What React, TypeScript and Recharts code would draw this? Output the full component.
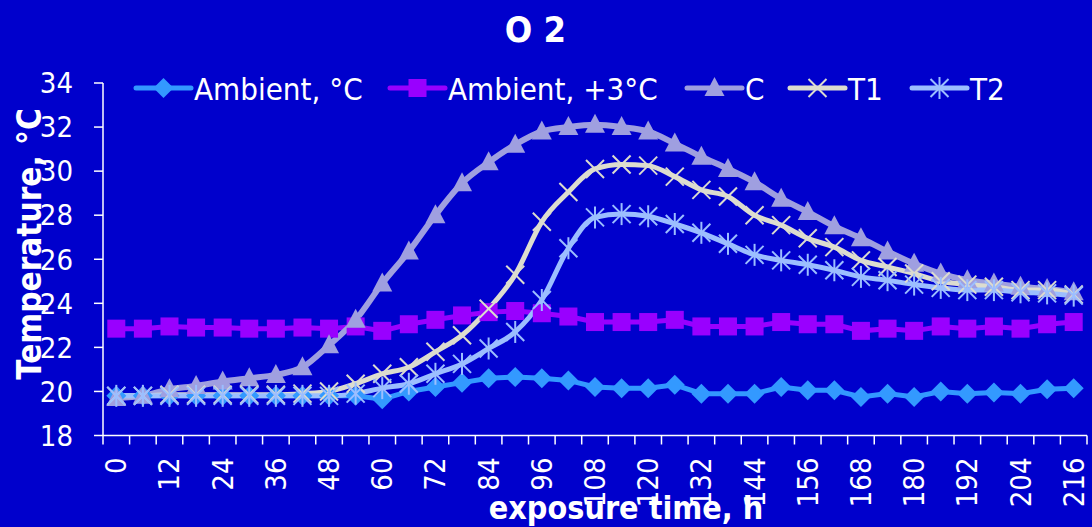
import React from 'react';
import { LineChart, Line, XAxis, YAxis } from 'recharts';

const hours = [0, 6, 12, 18, 24, 30, 36, 42, 48, 54, 60, 66, 72, 78, 84, 90, 96, 102, 108, 114, 120, 126, 132, 138, 144, 150, 156, 162, 168, 174, 180, 186, 192, 198, 204, 210, 216];
const ambient = [19.8, 19.8, 19.8, 19.8, 19.8, 19.8, 19.8, 19.8, 19.8, 19.8, 19.65, 20.0, 20.2, 20.4, 20.6, 20.65, 20.6, 20.5, 20.2, 20.15, 20.15, 20.3, 19.9, 19.9, 19.9, 20.2, 20.05, 20.05, 19.75, 19.9, 19.75, 20.0, 19.9, 19.95, 19.9, 20.1, 20.15];
const ambientPlus3 = [22.85, 22.85, 22.95, 22.9, 22.9, 22.85, 22.85, 22.9, 22.85, 22.95, 22.75, 23.05, 23.25, 23.45, 23.6, 23.65, 23.55, 23.4, 23.15, 23.15, 23.15, 23.25, 22.95, 22.95, 22.95, 23.15, 23.05, 23.05, 22.75, 22.85, 22.75, 22.95, 22.85, 22.95, 22.85, 23.05, 23.15];
const cSeries = [19.7, 19.8, 20.1, 20.25, 20.45, 20.6, 20.75, 21.1, 22.1, 23.25, 24.9, 26.35, 28.0, 29.45, 30.4, 31.2, 31.8, 32.0, 32.1, 32.0, 31.8, 31.25, 30.65, 30.1, 29.5, 28.75, 28.15, 27.5, 26.95, 26.35, 25.8, 25.35, 25.05, 24.9, 24.75, 24.65, 24.5];
const t1 = [19.8, 19.8, 19.85, 19.85, 19.85, 19.85, 19.85, 19.9, 20.0, 20.35, 20.8, 21.1, 21.8, 22.55, 23.75, 25.3, 27.7, 29.05, 30.1, 30.3, 30.25, 29.75, 29.15, 28.85, 28.0, 27.55, 26.95, 26.55, 25.95, 25.65, 25.35, 25.0, 24.85, 24.75, 24.6, 24.6, 24.4];
const t2 = [19.8, 19.8, 19.8, 19.8, 19.8, 19.8, 19.8, 19.8, 19.8, 19.9, 20.15, 20.35, 20.8, 21.25, 21.95, 22.7, 24.15, 26.5, 27.9, 28.05, 27.95, 27.6, 27.2, 26.7, 26.2, 25.95, 25.75, 25.5, 25.2, 25.05, 24.85, 24.7, 24.6, 24.6, 24.5, 24.45, 24.35];

const yTicks = [18, 20, 22, 24, 26, 28, 30, 32, 34];
const xLabelTicks = [0, 12, 24, 36, 48, 60, 72, 84, 96, 108, 120, 132, 144, 156, 168, 180, 192, 204, 216];
const seriesNames = ['Ambient, °C', 'Ambient, +3°C', 'C', 'T1', 'T2'];

const BG = '#0000CC';
const COL_AMB = '#3399FF';
const COL_AMB3 = '#9900FF';
const COL_C = '#9F9FE0';
const COL_T1 = '#DCDCCF';
const COL_T2 = '#9CBEFF';
const FONT = "'DejaVu Sans Condensed', 'DejaVu Sans', sans-serif";

const data = hours.map((h, i) => ({
  h,
  ambient: ambient[i],
  ambientPlus3: ambientPlus3[i],
  c: cSeries[i],
  t1: t1[i],
  t2: t2[i],
}));

// boundary tick marks between categories plus label positions
const xTicks = [...hours.map((h) => h - 3), 219, ...xLabelTicks].sort((a, b) => a - b);

const diamondPath = (cx: number, cy: number, r: number) =>
  `M${cx},${cy - r} L${cx + r},${cy} L${cx},${cy + r} L${cx - r},${cy} Z`;

const DiamondDot = (p: any) => <path key={`d${p.index}`} d={diamondPath(p.cx, p.cy, 10)} fill={COL_AMB} />;
const SquareDot = (p: any) => <rect key={`s${p.index}`} x={p.cx - 9} y={p.cy - 9} width={18} height={18} fill={COL_AMB3} />;
const TriDot = (p: any) => (
  <path key={`t${p.index}`} d={`M${p.cx},${p.cy - 11} L${p.cx + 10},${p.cy + 8} L${p.cx - 10},${p.cy + 8} Z`} fill={COL_C} />
);
const XDot = (p: any) => (
  <g key={`x${p.index}`} stroke={COL_T1} strokeWidth={2}>
    <line x1={p.cx - 9} y1={p.cy - 9} x2={p.cx + 9} y2={p.cy + 9} />
    <line x1={p.cx - 9} y1={p.cy + 9} x2={p.cx + 9} y2={p.cy - 9} />
  </g>
);
const StarDot = (p: any) => (
  <g key={`a${p.index}`} stroke={COL_T2} strokeWidth={2}>
    <line x1={p.cx - 9} y1={p.cy - 9} x2={p.cx + 9} y2={p.cy + 9} />
    <line x1={p.cx - 9} y1={p.cy + 9} x2={p.cx + 9} y2={p.cy - 9} />
    <line x1={p.cx} y1={p.cy - 11} x2={p.cx} y2={p.cy + 11} />
  </g>
);

const XTick = (props: any) => {
  const { x, y, payload } = props;
  const v = payload.value;
  if (v % 12 === 0) {
    const ty = y + 22;
    return (
      <text
        x={x}
        y={ty}
        transform={`rotate(-90 ${x} ${ty})`}
        textAnchor="end"
        dominantBaseline="central"
        fill="#FFFFFF"
        fontSize={29}
        fontFamily={FONT}
      >
        {v}
      </text>
    );
  }
  return <line x1={x} x2={x} y1={y} y2={y + 9} stroke="#FFFFFF" strokeWidth={1.5} />;
};

const legendItems = [
  { name: seriesNames[0], color: COL_AMB, marker: 'diamond', x: 136 },
  { name: seriesNames[1], color: COL_AMB3, marker: 'square', x: 390 },
  { name: seriesNames[2], color: COL_C, marker: 'tri', x: 687 },
  { name: seriesNames[3], color: COL_T1, marker: 'x', x: 790 },
  { name: seriesNames[4], color: COL_T2, marker: 'star', x: 912 },
];

const LegendMarker = ({ kind, cx, cy, color }: any) => {
  if (kind === 'diamond') return <path d={diamondPath(cx, cy, 10)} fill={color} />;
  if (kind === 'square') return <rect x={cx - 9} y={cy - 9} width={18} height={18} fill={color} />;
  if (kind === 'tri') return <path d={`M${cx},${cy - 11} L${cx + 10},${cy + 8} L${cx - 10},${cy + 8} Z`} fill={color} />;
  if (kind === 'x')
    return (
      <g stroke={color} strokeWidth={2}>
        <line x1={cx - 9} y1={cy - 9} x2={cx + 9} y2={cy + 9} />
        <line x1={cx - 9} y1={cy + 9} x2={cx + 9} y2={cy - 9} />
      </g>
    );
  return (
    <g stroke={color} strokeWidth={2}>
      <line x1={cx - 9} y1={cy - 9} x2={cx + 9} y2={cy + 9} />
      <line x1={cx - 9} y1={cy + 9} x2={cx + 9} y2={cy - 9} />
      <line x1={cx} y1={cy - 11} x2={cx} y2={cy + 11} />
    </g>
  );
};

export default function App() {
  return (
    <div style={{ position: 'fixed', left: 0, top: 0, width: 1092, height: 527, background: BG }}>
      <LineChart width={1092} height={527} data={data} margin={{ top: 83, right: 5, left: 0, bottom: 0 }}>
        <XAxis
          dataKey="h"
          type="number"
          domain={[-3, 219]}
          ticks={xTicks}
          interval={0}
          tick={<XTick />}
          tickLine={false}
          tickSize={0}
          tickMargin={0}
          height={91.5}
          axisLine={{ stroke: '#FFFFFF', strokeWidth: 1.5 }}
        />
        <YAxis
          type="number"
          domain={[18, 34]}
          ticks={yTicks}
          interval={0}
          width={103}
          tickSize={9}
          tickMargin={21}
          tick={{ fill: '#FFFFFF', fontSize: 29, fontFamily: FONT }}
          tickLine={{ stroke: '#FFFFFF', strokeWidth: 1.5 }}
          axisLine={{ stroke: '#FFFFFF', strokeWidth: 1.5 }}
        />
        <Line type="linear" dataKey="ambient" name={seriesNames[0]} stroke={COL_AMB} strokeWidth={5} dot={DiamondDot} isAnimationActive={false} />
        <Line type="linear" dataKey="ambientPlus3" name={seriesNames[1]} stroke={COL_AMB3} strokeWidth={5} dot={SquareDot} isAnimationActive={false} />
        <Line type="monotone" dataKey="c" name={seriesNames[2]} stroke={COL_C} strokeWidth={6} dot={TriDot} isAnimationActive={false} />
        <Line type="monotone" dataKey="t1" name={seriesNames[3]} stroke={COL_T1} strokeWidth={5} dot={XDot} isAnimationActive={false} />
        <Line type="monotone" dataKey="t2" name={seriesNames[4]} stroke={COL_T2} strokeWidth={5} dot={StarDot} isAnimationActive={false} />
      </LineChart>
      <svg width={1092} height={527} style={{ position: 'absolute', left: 0, top: 0, pointerEvents: 'none' }}>
        <text x={535.5} y={42} textAnchor="middle" fill="#FFFFFF" fontSize={36} fontWeight="bold" fontFamily={FONT}>
          O 2
        </text>
        {legendItems.map((it) => (
          <g key={it.name}>
            <line x1={it.x} x2={it.x + 55} y1={88} y2={88} stroke={it.color} strokeWidth={5} strokeLinecap="round" />
            <LegendMarker kind={it.marker} cx={it.x + 27.5} cy={88} color={it.color} />
            <text x={it.x + 58} y={100} fill="#FFFFFF" fontSize={31} fontFamily={FONT}>
              {it.name}
            </text>
          </g>
        ))}
        <text
          x={41}
          y={244}
          transform="rotate(-90 41 244)"
          textAnchor="middle"
          fill="#FFFFFF"
          fontSize={33}
          fontWeight="bold"
          fontFamily={FONT}
        >
          Temperature, °C
        </text>
        <text x={626} y={519} textAnchor="middle" fill="#FFFFFF" fontSize={32} fontWeight="bold" fontFamily={FONT}>
          exposure time, h
        </text>
      </svg>
    </div>
  );
}
